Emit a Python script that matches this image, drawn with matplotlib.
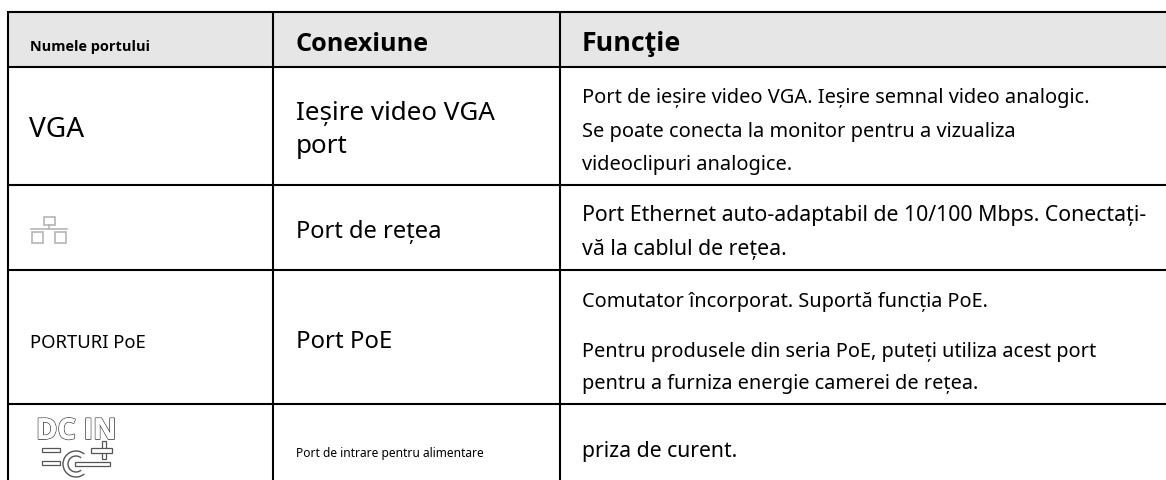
import matplotlib
matplotlib.use('Agg')
import matplotlib.pyplot as plt
import matplotlib.patheffects as pe
from matplotlib.patches import Rectangle, Arc

plt.rcParams['font.family'] = ['Noto Sans', 'DejaVu Sans']

header = ['Numele portului', 'Conexiune', 'Funcţie']
col1 = ['VGA', 'PORTURI PoE']
col2 = ['Ieșire video VGA', 'port', 'Port de rețea', 'Port PoE', 'Port de intrare pentru alimentare']
func_vga = ['Port de ieșire video VGA. Ieșire semnal video analogic.',
            'Se poate conecta la monitor pentru a vizualiza',
            'videoclipuri analogice.']
func_net = ['Port Ethernet auto-adaptabil de 10/100 Mbps. Conectați-',
            'vă la cablul de rețea.']
func_poe = ['Comutator încorporat. Suportă funcția PoE.',
            'Pentru produsele din seria PoE, puteți utiliza acest port',
            'pentru a furniza energie camerei de rețea.']
func_dc = 'priza de curent.'

vlines = [8, 273, 560]
hlines = [13, 68, 186, 271, 405]

W, H = 1166, 481
fig = plt.figure(figsize=(W / 100, H / 100), dpi=100)
ax = fig.add_axes([0, 0, 1, 1])
ax.set_xlim(0, W)
ax.set_ylim(H, 0)
ax.axis('off')


def px(n):
    return n * 0.72


ax.add_patch(Rectangle((8, 13), W - 8, 55, fc='#e6e6e6', ec='none'))
for y in hlines:
    ax.plot([7, W], [y, y], color='black', lw=1.5, solid_capstyle='butt')
for x in vlines:
    ax.plot([x, x], [12, H], color='black', lw=1.5, solid_capstyle='butt')

# header, the bold weight comes from Open Sans
ax.text(30, 51, header[0], fontsize=px(14.5), family='Open Sans', fontweight='bold')
ax.text(295.5, 51, header[1], fontsize=px(25.2), family='Open Sans', fontweight='bold')
ax.text(582, 51, header[2], fontsize=px(26.7), family='Open Sans', fontweight='bold')

# col 1
ax.text(29, 137, col1[0], fontsize=px(28), va='baseline')
ax.text(30, 348, col1[1], fontsize=px(18.5), va='baseline')

# col 2
ax.text(296, 120, col2[0], fontsize=px(26), va='baseline')
ax.text(296, 153, col2[1], fontsize=px(26), va='baseline')
ax.text(296, 238, col2[2], fontsize=px(23.7), va='baseline')
ax.text(296, 348, col2[3], fontsize=px(24), va='baseline')
ax.text(296, 457, col2[4], fontsize=px(12), va='baseline')

# function column
for y, s in zip([103, 137, 170], func_vga):
    ax.text(582, y, s, fontsize=px(20), va='baseline')
for y, s in zip([221, 255], func_net):
    ax.text(582, y, s, fontsize=px(21.3), va='baseline')
for y, s in zip([307, 357, 389], func_poe):
    ax.text(582, y, s, fontsize=px(19.9), va='baseline')
ax.text(582, 457, func_dc, fontsize=px(21.2), va='baseline')

# network icon
grey = '#b5b5b5'
for x, y, w, h in [(44, 218, 11, 8), (32, 233, 11, 11), (55, 233, 11, 11)]:
    ax.add_patch(Rectangle((x, y), w, h, fc='none', ec=grey, lw=1.2))
ax.plot([31, 67], [230, 230], color=grey, lw=1.2)
ax.plot([49, 49], [226, 230], color=grey, lw=1.2)

# dc in icon
ic = '#555555'
ax.text(36, 440, 'DC IN', fontsize=px(29), color='white', family='Open Sans', fontweight='bold',
        path_effects=[pe.withStroke(linewidth=1.3, foreground=ic), pe.Normal()])
ax.add_patch(Rectangle((42, 449), 18, 3.5, fc='white', ec=ic, lw=0.9))
ax.add_patch(Rectangle((42, 462), 18, 3.5, fc='white', ec=ic, lw=0.9))
ax.add_patch(Rectangle((75, 463), 35, 3.5, fc='white', ec=ic, lw=0.9))
ax.add_patch(Rectangle((102, 442), 4, 18, fc='white', ec=ic, lw=0.9))
ax.add_patch(Rectangle((91, 449), 21, 5, fc='white', ec=ic, lw=0.9))
ax.add_patch(Rectangle((102.6, 449.6), 2.8, 3.8, fc='white', ec='none'))
ax.add_patch(Arc((76, 465), 26, 26, theta1=50, theta2=310, ec=ic, lw=1.0))
ax.add_patch(Arc((76, 465), 16, 16, theta1=50, theta2=310, ec=ic, lw=1.0))

fig.savefig('out.png', dpi=100)
